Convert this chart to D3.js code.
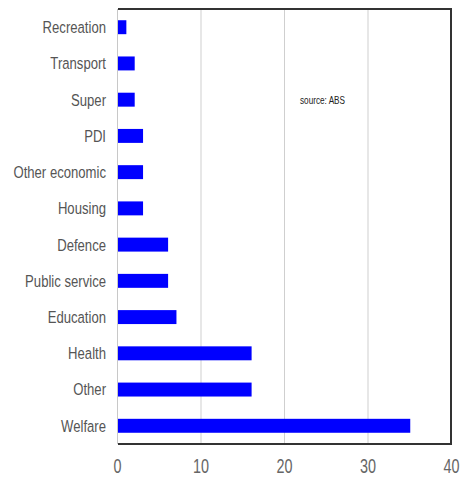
<!DOCTYPE html>
<html>
<head>
<meta charset="utf-8">
<script src="https://cdn.jsdelivr.net/npm/d3@7"></script>
<style>
  body { margin: 0; background: #fff; }
  svg { display: block; }
</style>
</head>
<body>
<div id="chart"></div>
<script>
const categories = ['Recreation', 'Transport', 'Super', 'PDI', 'Other economic', 'Housing',
                    'Defence', 'Public service', 'Education', 'Health', 'Other', 'Welfare']
const values = [1, 2, 2, 3, 3, 3, 6, 6, 7, 16, 16, 35]
const tick_values = [0, 10, 20, 30, 40]
const source_note = 'source:  ABS'

const svg_width = 463
const svg_height = 478
const plot_left = 117
const plot_right = 451
const plot_top = 9
const plot_bottom = 444
// no narrow font installed, so squeeze Liberation Sans horizontally
const font = "'Liberation Sans', Arial, sans-serif"
const squeeze = 0.82

const data = categories.map((c, i) => ({ name: c, value: values[i] }))

const xScale = d3.scaleLinear()
        .domain([0, 40])
        .range([plot_left, plot_right])

const yScale = d3.scaleBand()
        .domain(categories)
        .range([plot_top, plot_bottom])
        .paddingInner(0.615)
        .paddingOuter(0.31)

const svg = d3.select('#chart')
            .append('svg')
            .attr('width', svg_width)
            .attr('height', svg_height)

// gridlines
svg.append('g')
    .selectAll('line')
    .data(tick_values.filter(t => t > 0 && t < 40))
    .join('line')
      .attr('x1', d => xScale(d) + 0.5)
      .attr('x2', d => xScale(d) + 0.5)
      .attr('y1', plot_top)
      .attr('y2', plot_bottom)
      .attr('stroke', '#cfcfcf')
      .attr('stroke-width', 1)

// left axis line (light)
svg.append('line')
    .attr('x1', plot_left + 0.5).attr('x2', plot_left + 0.5)
    .attr('y1', plot_top).attr('y2', plot_bottom)
    .attr('stroke', '#c8c8c8')

// bars
svg.append('g')
    .selectAll('rect')
    .data(data)
    .join('rect')
      .attr('x', xScale(0) + 1)
      .attr('y', d => yScale(d.name))
      .attr('width', d => xScale(d.value) - xScale(0))
      .attr('height', yScale.bandwidth())
      .attr('fill', '#0000ff')

// frame: top, right, bottom dark lines
svg.append('path')
    .attr('d', `M${plot_left + 1},${plot_top} H${plot_right} V${plot_bottom} H${plot_left + 1}`)
    .attr('fill', 'none')
    .attr('stroke', '#333')
    .attr('stroke-width', 2)

// category labels
svg.append('g')
    .selectAll('text')
    .data(categories)
    .join('text')
      .text(d => d)
      .attr('transform', d => `translate(106,${yScale(d) + yScale.bandwidth() / 2}) scale(${squeeze},1.05)`)
      .attr('dy', '0.35em')
      .attr('text-anchor', 'end')
      .attr('fill', '#555')
      .attr('font-family', font)
      .attr('font-size', '16px')

// x axis tick labels
const xAxis = d3.axisBottom(xScale)
        .tickValues(tick_values)
        .tickSize(0)
        .tickPadding(0)
const gx = svg.append('g')
    .attr('transform', `translate(0,${plot_bottom})`)
    .call(xAxis)
gx.select('.domain').remove()
gx.selectAll('text')
    .attr('transform', 'translate(0,29) scale(0.8,1.15)')
    .attr('y', 0)
    .attr('dy', 0)
    .attr('fill', '#666')
    .attr('font-family', font)
    .attr('font-size', '18px')

// source note
svg.append('text')
    .text(source_note)
    .attr('transform', `translate(300,104) scale(${squeeze},1)`)
    .attr('fill', '#222')
    .attr('font-family', font)
    .attr('font-size', '10px')
</script>
</body>
</html>
